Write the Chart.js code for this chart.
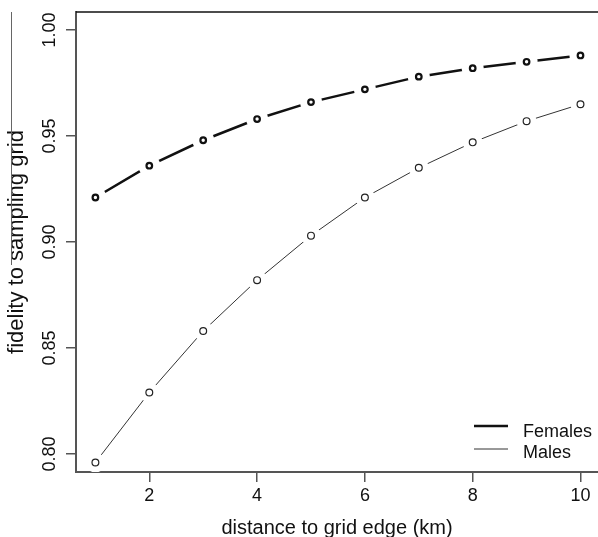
<!DOCTYPE html>
<html>
<head>
<meta charset="utf-8">
<script src="https://cdn.jsdelivr.net/npm/chart.js@4.4.0/dist/chart.umd.min.js"></script>
<style>
  html, body { margin: 0; padding: 0; background: #fff; }
  #wrap { width: 598px; height: 537px; position: relative; }
</style>
</head>
<body>
<div id="wrap"><canvas id="fidelityChart" width="598" height="537"></canvas></div>
<script>
// values
const distance = [1, 2, 3, 4, 5, 6, 7, 8, 9, 10];
const females = [0.921, 0.936, 0.948, 0.958, 0.966, 0.972, 0.978, 0.982, 0.985, 0.988];
const males = [0.796, 0.829, 0.858, 0.882, 0.903, 0.921, 0.935, 0.947, 0.957, 0.965];
const xTicks = [2, 4, 6, 8, 10];
const yTicks = [0.80, 0.85, 0.90, 0.95, 1.00];
const seriesNames = ['Females', 'Males'];

const FONT = "'Liberation Sans', Arial, Helvetica, sans-serif";

const toPoints = ys => distance.map((x, i) => ({ x: x, y: ys[i] }));

// R type="b": open circles on top (drawn last), line with white discs under them for the gaps
function circles(ys, r, lw, color) {
  return {
    label: '', isMarker: true, data: toPoints(ys), showLine: false,
    pointRadius: r, pointBorderWidth: lw, pointBorderColor: color,
    pointBackgroundColor: 'rgba(0,0,0,0)'
  };
}
function gappedLine(name, ys, lw, color, gap) {
  return {
    label: name, data: toPoints(ys), borderColor: color, borderWidth: lw, tension: 0,
    pointRadius: gap, pointBorderWidth: 0, pointBackgroundColor: '#fff', pointBorderColor: '#fff'
  };
}

const rStyle = {
  id: 'rStyle',
  afterDraw(chart) {
    const { ctx, chartArea: a, scales } = chart;
    ctx.save();
    // top frame line (right side is cut off in the original)
    ctx.strokeStyle = '#111';
    ctx.lineWidth = 1.5;
    ctx.beginPath(); ctx.moveTo(a.left, a.top); ctx.lineTo(a.right, a.top); ctx.stroke();
    // stray panel line left of the y title
    ctx.strokeStyle = '#666';
    ctx.lineWidth = 1;
    ctx.beginPath(); ctx.moveTo(11.5, 12); ctx.lineTo(11.5, 265); ctx.stroke();

    // rotated y tick labels
    ctx.fillStyle = '#111';
    ctx.font = '18px ' + FONT;
    ctx.textAlign = 'center';
    ctx.textBaseline = 'alphabetic';
    yTicks.forEach(v => {
      const py = scales.y.getPixelForValue(v);
      ctx.save();
      ctx.translate(55, py);
      ctx.rotate(-Math.PI / 2);
      ctx.fillText(v.toFixed(2), 0, 0);
      ctx.restore();
    });

    // legend, bottom right inside the plot
    const ds = chart.data.datasets.filter(d => !d.isMarker);
    const rows = [437, 458];
    const lineY = [426, 449];
    ctx.textAlign = 'left';
    ds.forEach((d, i) => {
      ctx.strokeStyle = d.borderColor;
      ctx.lineWidth = d.borderWidth;
      ctx.beginPath(); ctx.moveTo(474, lineY[i]); ctx.lineTo(508, lineY[i]); ctx.stroke();
      ctx.fillStyle = '#111';
      ctx.fillText(d.label, 523, rows[i]);
    });
    ctx.restore();
  }
};

const ctx = document.getElementById('fidelityChart').getContext('2d');
new Chart(ctx, {
  type: 'line',
  data: {
    datasets: [
      circles(females, 2.8, 2.2, '#111'),
      circles(males, 3.4, 1.2, '#222'),
      gappedLine(seriesNames[0], females, 2.5, '#111', 11),
      gappedLine(seriesNames[1], males, 1, '#333', 10)
    ]
  },
  options: {
    responsive: false,
    animation: false,
    events: [],
    layout: { autoPadding: false, padding: { top: 12, right: 0, bottom: 0, left: 0 } },
    plugins: { legend: { display: false }, tooltip: { enabled: false } },
    scales: {
      x: {
        type: 'linear',
        min: 0.64,
        max: 10.325,
        z: 1,
        afterBuildTicks: s => { s.ticks = xTicks.map(v => ({ value: v })); },
        afterFit: s => { s.height = 65; },
        grid: { drawOnChartArea: false, drawTicks: true, tickLength: 10, color: '#555', lineWidth: 1.5 },
        border: { color: '#555', width: 2 },
        ticks: { color: '#111', font: { family: FONT, size: 18 }, padding: 3, maxRotation: 0 },
        title: {
          display: true,
          text: 'distance to grid edge (km)',
          color: '#111',
          font: { family: FONT, size: 20, lineHeight: 1 },
          padding: { top: 0, bottom: -1 }
        }
      },
      y: {
        type: 'linear',
        min: 0.7915,
        max: 1.0085,
        z: 1,
        afterBuildTicks: s => { s.ticks = yTicks.map(v => ({ value: v })); },
        afterFit: s => { s.width = 76; },
        grid: { drawOnChartArea: false, drawTicks: true, tickLength: 10, color: '#555', lineWidth: 1.5 },
        border: { color: '#555', width: 2 },
        ticks: { display: false },
        title: {
          display: true,
          text: 'fidelity to sampling grid',
          color: '#111',
          font: { family: FONT, size: 22 },
          padding: { top: 4, bottom: 0 }
        }
      }
    }
  },
  plugins: [rStyle]
});
</script>
</body>
</html>
